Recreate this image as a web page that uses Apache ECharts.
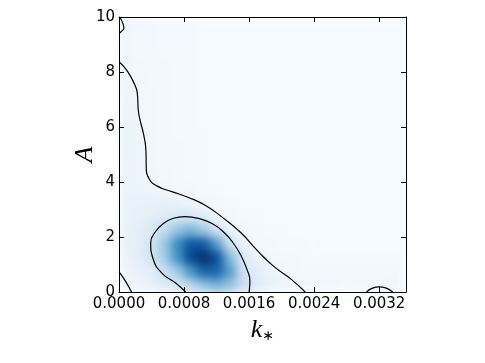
<!DOCTYPE html>
<html>
<head>
<meta charset="utf-8">
<script src="https://cdn.jsdelivr.net/npm/echarts@6/dist/echarts.min.js"></script>
<style>
html, body { margin: 0; padding: 0; background: #fff; }
#wrap { position: relative; width: 485px; height: 363px; }
#heat { position: absolute; left: 119px; top: 17px; width: 287px; height: 275px; filter: url(#soft); }
#main { position: absolute; left: 0; top: 0; width: 485px; height: 363px; }
</style>
</head>
<body>
<svg width="0" height="0" style="position:absolute">
	<filter id="soft" x="0" y="0" width="1" height="1" color-interpolation-filters="sRGB">
		<feGaussianBlur stdDeviation="5" edgeMode="duplicate"/>
	</filter>
</svg>
<div id="wrap"><div id="heat"></div><div id="main"></div></div>
<script>
// axis range / ticks
var xMax = 0.00353;
var xTickStep = 0.0008;
var yMax = 10;
var yTickStep = 2;

// density grid, cell centres (k_*, A)
var xCenters = ['0.00008', '0.00024', '0.00040', '0.00056', '0.00072', '0.00088', '0.00104', '0.00120',
	'0.00136', '0.00152', '0.00168', '0.00184', '0.00200', '0.00216', '0.00232', '0.00248',
	'0.00264', '0.00280', '0.00296', '0.00312', '0.00328', '0.00344'];
var yCenters = ['0.25', '0.75', '1.25', '1.75', '2.25', '2.75', '3.25', '3.75', '4.25', '4.75',
	'5.25', '5.75', '6.25', '6.75', '7.25', '7.75', '8.25', '8.75', '9.25', '9.75'];

// relative density, one row per yCenters entry (bottom to top)
var densityRows = [
	[0.035, 0.06, 0.08, 0.12, 0.17, 0.28, 0.40, 0.48, 0.40, 0.24, 0.13, 0.08, 0.052, 0.042, 0.035, 0.03, 0.028, 0.027, 0.03, 0.038, 0.036, 0.028],
	[0.045, 0.07, 0.10, 0.21, 0.36, 0.60, 0.80, 0.80, 0.58, 0.21, 0.11, 0.055, 0.038, 0.03, 0.026, 0.022, 0.02, 0.02, 0.022, 0.026, 0.025, 0.02],
	[0.06, 0.10, 0.18, 0.35, 0.62, 0.90, 1.0, 0.90, 0.45, 0.15, 0.06, 0.033, 0.025, 0.02, 0.018, 0.016, 0.015, 0.015, 0.015, 0.016, 0.016, 0.015],
	[0.07, 0.10, 0.18, 0.38, 0.65, 0.86, 0.85, 0.58, 0.21, 0.07, 0.035, 0.022, 0.016, 0.013, 0.012, 0.011, 0.011, 0.011, 0.011, 0.011, 0.011, 0.011],
	[0.07, 0.10, 0.15, 0.26, 0.40, 0.47, 0.38, 0.20, 0.07, 0.032, 0.02, 0.015, 0.012, 0.011, 0.01, 0.01, 0.01, 0.01, 0.01, 0.01, 0.01, 0.01],
	[0.065, 0.085, 0.10, 0.13, 0.155, 0.16, 0.12, 0.05, 0.022, 0.015, 0.012, 0.01, 0.01, 0.009, 0.009, 0.009, 0.009, 0.009, 0.009, 0.009, 0.009, 0.009],
	[0.065, 0.07, 0.075, 0.075, 0.07, 0.055, 0.037, 0.022, 0.014, 0.011, 0.01, 0.009, 0.009, 0.008, 0.008, 0.008, 0.008, 0.008, 0.008, 0.008, 0.008, 0.008],
	[0.06, 0.058, 0.05, 0.04, 0.032, 0.025, 0.018, 0.013, 0.01, 0.009, 0.008, 0.008, 0.008, 0.008, 0.008, 0.008, 0.008, 0.008, 0.008, 0.008, 0.008, 0.008],
	[0.06, 0.05, 0.037, 0.028, 0.022, 0.018, 0.014, 0.011, 0.009, 0.008, 0.008, 0.008, 0.008, 0.008, 0.008, 0.008, 0.008, 0.008, 0.008, 0.008, 0.008, 0.008],
	[0.062, 0.048, 0.036, 0.026, 0.02, 0.016, 0.013, 0.01, 0.009, 0.008, 0.008, 0.008, 0.008, 0.008, 0.008, 0.008, 0.008, 0.008, 0.008, 0.008, 0.008, 0.008],
	[0.065, 0.048, 0.036, 0.026, 0.02, 0.016, 0.013, 0.01, 0.009, 0.008, 0.008, 0.008, 0.008, 0.008, 0.008, 0.008, 0.008, 0.008, 0.008, 0.008, 0.008, 0.008],
	[0.065, 0.044, 0.032, 0.025, 0.019, 0.015, 0.012, 0.01, 0.009, 0.008, 0.008, 0.008, 0.008, 0.008, 0.008, 0.008, 0.008, 0.008, 0.008, 0.008, 0.008, 0.008],
	[0.062, 0.041, 0.03, 0.023, 0.018, 0.014, 0.011, 0.01, 0.009, 0.008, 0.008, 0.008, 0.008, 0.008, 0.008, 0.008, 0.008, 0.008, 0.008, 0.008, 0.008, 0.008],
	[0.06, 0.041, 0.03, 0.023, 0.018, 0.014, 0.011, 0.01, 0.009, 0.008, 0.008, 0.008, 0.008, 0.008, 0.008, 0.008, 0.008, 0.008, 0.008, 0.008, 0.008, 0.008],
	[0.056, 0.039, 0.029, 0.022, 0.017, 0.013, 0.011, 0.01, 0.009, 0.008, 0.008, 0.008, 0.008, 0.008, 0.008, 0.008, 0.008, 0.008, 0.008, 0.008, 0.008, 0.008],
	[0.048, 0.034, 0.027, 0.021, 0.016, 0.013, 0.01, 0.009, 0.008, 0.008, 0.008, 0.008, 0.008, 0.008, 0.008, 0.008, 0.008, 0.008, 0.008, 0.008, 0.008, 0.008],
	[0.04, 0.03, 0.025, 0.02, 0.016, 0.013, 0.01, 0.009, 0.008, 0.008, 0.008, 0.008, 0.008, 0.008, 0.008, 0.008, 0.008, 0.008, 0.008, 0.008, 0.008, 0.008],
	[0.036, 0.027, 0.023, 0.019, 0.015, 0.012, 0.01, 0.009, 0.008, 0.008, 0.008, 0.008, 0.008, 0.008, 0.008, 0.008, 0.008, 0.008, 0.008, 0.008, 0.008, 0.008],
	[0.036, 0.027, 0.022, 0.018, 0.015, 0.012, 0.01, 0.009, 0.008, 0.008, 0.008, 0.008, 0.008, 0.008, 0.008, 0.008, 0.008, 0.008, 0.008, 0.008, 0.008, 0.008],
	[0.042, 0.028, 0.022, 0.018, 0.015, 0.012, 0.01, 0.009, 0.008, 0.008, 0.008, 0.008, 0.008, 0.008, 0.008, 0.008, 0.008, 0.008, 0.008, 0.008, 0.008, 0.008]
];

// contour lines, [k_*, A]
var outerContour = [[0, 8.37], [0.000094, 8.07], [0.000176, 7.65], [0.000225, 7.23], [0.000237, 6.62],
	[0.000255, 6.3], [0.000305, 5.7], [0.000332, 5.1], [0.000335, 4.55], [0.00037, 4.12],
	[0.00047, 3.85], [0.00065, 3.65], [0.00087, 3.42], [0.00108, 3.12],
	[0.00126, 2.74], [0.00149, 2.18], [0.00172, 1.45], [0.0019, 0.94], [0.00212, 0.46], [0.00229, 0]];
var innerContour = [[0.00082, 0], [0.0007, 0.32], [0.00053, 0.68], [0.00042, 1.2], [0.00039, 1.8],
	[0.00045, 2.2], [0.00055, 2.5], [0.00067, 2.68], [0.00081, 2.74], [0.001, 2.66],
	[0.00115, 2.48], [0.00128, 2.2], [0.0014, 1.8], [0.0015, 1.33], [0.00157, 0.85], [0.00161, 0.4], [0.0016, 0]];
var cornerContour = [[0, 0.73], [0.00007, 0.44], [0.000154, 0]];
var topContour = [[0.00001, 10], [0.00005, 9.75], [0.00006, 9.6], [0.00003, 9.48], [0, 9.4]];
var bumpContour = [[0.003044, 0], [0.00311, 0.13], [0.0032, 0.19], [0.00328, 0.15], [0.003367, 0]];

// matplotlib Blues
var blues = ['#f7fbff', '#deebf7', '#c6dbef', '#9ecae1', '#6baed6', '#4292c6', '#2171b5', '#08519c', '#08306b'];

var cells = [];
for(var j = 0; j < densityRows.length; j++) {
	for(var i = 0; i < densityRows[j].length; i++) {
		cells.push([i, j, densityRows[j][i]]);
	}
}

var heat = echarts.init(document.getElementById('heat'));
heat.setOption({
	animation: false,
	grid: { left: 0, right: 0, top: 0, bottom: 0 },
	xAxis: { type: 'category', data: xCenters, show: false },
	yAxis: { type: 'category', data: yCenters, show: false },
	visualMap: { show: false, min: 0, max: 1, inRange: { color: blues } },
	series: [{
		type: 'heatmap',
		data: cells,
		progressive: 0,
		itemStyle: { borderWidth: 0 }
	}]
});

var frame = { show: true, onZero: false, lineStyle: { color: '#000', width: 1 } };
var ticks = { show: true, inside: true, length: 5, lineStyle: { color: '#000', width: 1 } };

function contour(pts) {
	return {
		type: 'line',
		data: pts,
		xAxisIndex: 0,
		yAxisIndex: 0,
		symbol: 'none',
		smooth: 0.5,
		clip: true,
		lineStyle: { color: '#000', width: 1.2 },
		z: 5
	};
}

var chart = echarts.init(document.getElementById('main'));
chart.setOption({
	animation: false,
	backgroundColor: 'transparent',
	grid: { left: 119, top: 17, width: 287, height: 275 },
	xAxis: [{
		type: 'value', min: 0, max: xMax, interval: xTickStep,
		axisLine: frame, axisTick: ticks, splitLine: { show: false },
		axisLabel: {
			color: '#000', fontFamily: 'DejaVu Sans', fontSize: 15, margin: 5, showMaxLabel: false,
			formatter: function(v) { return v.toFixed(4); }
		},
		name: '{k|k}{s|∗}',
		nameLocation: 'middle',
		nameGap: 20,
		nameTextStyle: {
			rich: {
				k: { fontFamily: 'Liberation Serif', fontStyle: 'italic', fontSize: 26, color: '#000' },
				s: { fontFamily: 'DejaVu Sans', fontSize: 14, color: '#000', padding: [12, 0, 0, 0] }
			}
		}
	}, {
		type: 'value', position: 'top', min: 0, max: xMax, interval: xTickStep,
		axisLine: frame, axisTick: ticks, splitLine: { show: false }, axisLabel: { show: false }
	}],
	yAxis: [{
		type: 'value', min: 0, max: yMax, interval: yTickStep,
		axisLine: frame, axisTick: ticks, splitLine: { show: false },
		axisLabel: { color: '#000', fontFamily: 'DejaVu Sans', fontSize: 15, margin: 4 },
		name: 'A',
		nameLocation: 'middle',
		nameGap: 21,
		nameMoveOverlap: false,
		nameRotate: 90,
		nameTextStyle: { fontFamily: 'Liberation Serif', fontStyle: 'italic', fontSize: 26, color: '#000' }
	}, {
		type: 'value', position: 'right', min: 0, max: yMax, interval: yTickStep,
		axisLine: frame, axisTick: ticks, splitLine: { show: false }, axisLabel: { show: false }
	}],
	series: [
		contour(outerContour),
		contour(innerContour),
		contour(cornerContour),
		contour(topContour),
		contour(bumpContour)
	]
});
</script>
</body>
</html>
